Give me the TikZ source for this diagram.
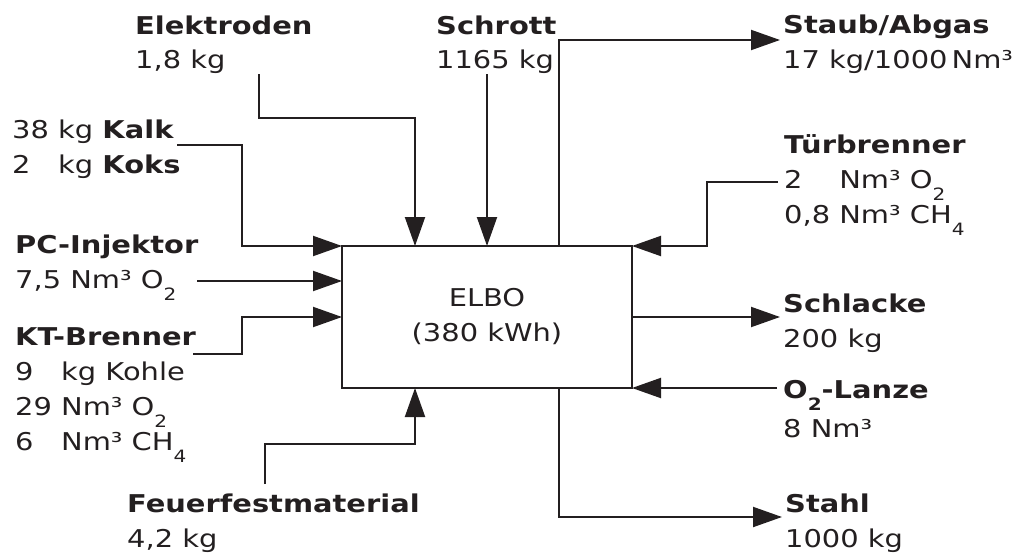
\documentclass[tikz,border=0pt]{standalone}
\usepackage{fontspec}
\setmainfont{DejaVu Sans}[FakeStretch=1.18]
\usepackage{xcolor,tikz}
\usetikzlibrary{arrows.meta,positioning,calc}
\definecolor{ink}{HTML}{231F20}
\newcommand\lowidx[1]{\smash{\raisebox{-0.5em}{\fontsize{17}{17}\selectfont #1}}}
\newcommand\stack[1]{\begin{tabular}[t]{@{}l@{}}#1\end{tabular}}

\begin{document}
\begin{tikzpicture}[x=1pt,y=-1pt,every node/.style={font=\fontsize{24.5}{35}\selectfont,text=ink},lab/.style={inner sep=0pt,anchor=base west},furnace/.style={draw=ink,line width=2pt,outer sep=0pt,minimum width=290pt,minimum height=142pt,align=center},flow/.style={draw=ink,line width=2pt,-{Triangle[length=29pt,width=20pt]}}]
\useasboundingbox (0,0) rectangle (1028,554);
\node[furnace] (elbo) at (487,317) {ELBO\\(380 kWh)};
\node[lab] (elek) at (135,34) {\stack{\textbf{Elektroden}\\1,8 kg}};
\node[lab] (schr) at (436,34) {\stack{\textbf{Schrott}\\1165 kg}};
\node[lab] (staub) at (783,33) {\stack{\textbf{Staub/Abgas}\\17 kg/1000\,Nm³}};
\node[lab] (tuer) at (784,153) {\stack{\textbf{Türbrenner}\\2\phantom{,8} Nm³ O\lowidx{2}\\0,8 Nm³ CH\lowidx{4}}};
\node[lab] (kalk) at (12,138) {\stack{38 kg \textbf{Kalk}\\2\phantom{8} kg \textbf{Koks}}};
\node[lab] (pc) at (15,253) {\stack{\textbf{PC-Injektor}\\7,5 Nm³ O\lowidx{2}}};
\node[lab] (kt) at (15,345) {\stack{\textbf{KT-Brenner}\\9\phantom{2} kg Kohle\\29 Nm³ O\lowidx{2}\\6\phantom{2} Nm³ CH\lowidx{4}}};
\node[lab] (feu) at (127,512) {\stack{\textbf{Feuerfestmaterial}\\4,2 kg}};
\node[lab] (schl) at (783,312) {\stack{\textbf{Schlacke}\\200 kg}};
\node[lab] (lanze) at (783,398) {\stack{\textbf{O\lowidx{2}-Lanze}\\[4pt]8 Nm³}};
\node[lab] (stahl) at (785,512) {\stack{\textbf{Stahl}\\1000 kg}};
\coordinate (elekA) at (259,74);\coordinate (schrA) at (487,74);\coordinate (staubA) at (780,40);\coordinate (tuerA) at (778,182);
\coordinate (kalkA) at (177,145);\coordinate (pcA) at (197,281);\coordinate (ktA) at (193,354);\coordinate (feuA) at (265,484);
\coordinate (schlA) at (780,317);\coordinate (lanzeA) at (777,388);\coordinate (stahlA) at (782,517);
\draw[flow] (kalkA) -- ++(65,0) |- (elbo.north west);
\draw[flow] (elekA) -- ++(0,44) -| ([xshift=-72pt]elbo.north);
\draw[flow] (schrA) -- (elbo.north);
\draw[flow] ([xshift=72pt]elbo.north) |- (staubA);
\draw[flow] (tuerA) -- ++(-71,0) |- (elbo.north east);
\draw[flow] (pcA) -- (pcA -| elbo.west);
\draw[flow] (ktA) -- ++(49,0) |- (elbo.west);
\draw[flow] (feuA) -- ++(0,-40) -| ([xshift=-72pt]elbo.south);
\draw[flow] (elbo.east) -- (schlA);
\draw[flow] (lanzeA) -- (elbo.south east);
\draw[flow] ([xshift=72pt]elbo.south) |- (stahlA);
\end{tikzpicture}
\end{document}
